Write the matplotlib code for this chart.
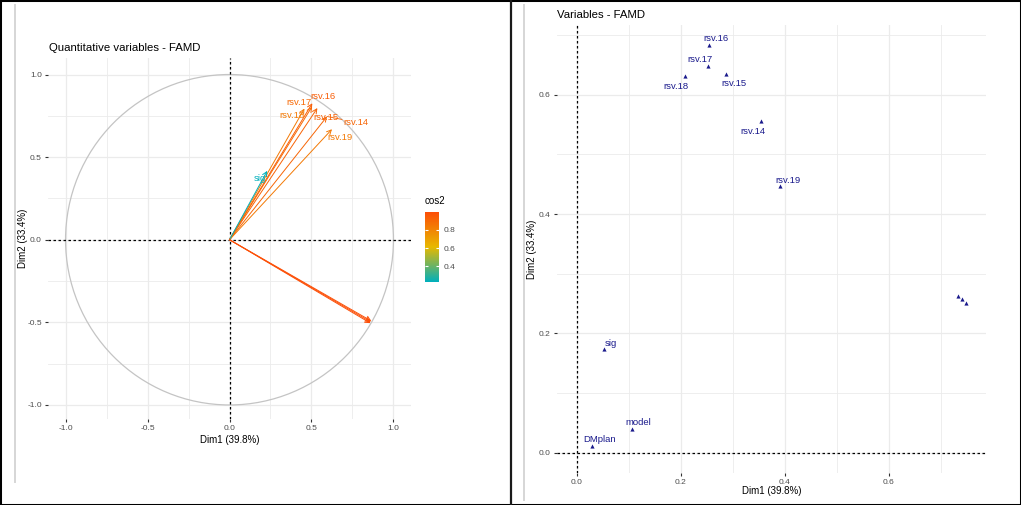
import matplotlib
matplotlib.use("Agg")
import matplotlib.pyplot as plt
import numpy as np
from matplotlib.colors import LinearSegmentedColormap, Normalize
from matplotlib.patches import Circle, Rectangle
from matplotlib.lines import Line2D
import matplotlib.cm as cm

plt.rcParams['font.family'] = ['Liberation Sans', 'DejaVu Sans']

# ---------------- data ----------------
# Left panel: quantitative variables (correlation circle)
quant_names = ["rsv.14", "rsv.15", "rsv.16", "rsv.17", "rsv.18", "rsv.19", "sig", "", "", ""]
quant_dim1 = [0.595, 0.536, 0.505, 0.503, 0.457, 0.625, 0.230, 0.860, 0.862, 0.865]
quant_dim2 = [0.746, 0.797, 0.826, 0.805, 0.794, 0.669, 0.417, -0.505, -0.498, -0.492]
quant_cos2 = [0.91, 0.92, 0.94, 0.90, 0.84, 0.84, 0.227, 0.997, 0.993, 0.990]

# Right panel: all variables
var_names = ["rsv.16", "rsv.17", "rsv.18", "rsv.15", "rsv.14", "rsv.19", "sig", "model", "DMplan", "", "", ""]
var_dim1 = [0.255, 0.253, 0.209, 0.287, 0.354, 0.391, 0.053, 0.106, 0.029, 0.734, 0.741, 0.749]
var_dim2 = [0.683, 0.648, 0.631, 0.635, 0.556, 0.447, 0.174, 0.040, 0.011, 0.263, 0.258, 0.251]

left_ticks = [-1.0, -0.5, 0.0, 0.5, 1.0]
left_minor = [-0.75, -0.25, 0.25, 0.75]
right_ticks = [0.0, 0.2, 0.4, 0.6]
right_minor = [0.1, 0.3, 0.5, 0.7]
cbar_ticks = [0.4, 0.6, 0.8]

# ---------------- layout helpers ----------------
W, H = 1021, 505
fig = plt.figure(figsize=(W / 100, H / 100), dpi=100)


def px_rect(l, t, r, b):
    return [l / W, 1 - b / H, (r - l) / W, (b - t) / H]


def axc(rect, px, py):
    l, t, r, b = rect
    return (px - l) / (r - l), (b - py) / (b - t)


GRID = "#EBEBEB"
TICKC = "#4D4D4D"


def style(ax, ticks, minor, fmt):
    for s in ax.spines.values():
        s.set_visible(False)
    ax.set_xticks(ticks)
    ax.set_yticks(ticks)
    ax.set_xticks(minor, minor=True)
    ax.set_yticks(minor, minor=True)
    ax.set_xticklabels([fmt % t for t in ticks])
    ax.set_yticklabels([fmt % t for t in ticks])
    ax.grid(True, which='major', color=GRID, lw=0.9)
    ax.grid(True, which='minor', color=GRID, lw=0.6)
    ax.set_axisbelow(True)
    ax.tick_params(which='major', length=2, width=0.8, color="#333333",
                   labelsize=6, labelcolor=TICKC, pad=2.5)
    ax.tick_params(which='minor', length=0)


# ---------------- left panel ----------------
L_RECT = (48, 58, 411, 419)
ax1 = fig.add_axes(px_rect(*L_RECT))
ax1.set_xlim(-1.107, 1.107)
ax1.set_ylim(-1.085, 1.10)
style(ax1, left_ticks, left_minor, "%.1f")

ax1.add_patch(Circle((0, 0), 1, fill=False, ec="#C4C4C4", lw=0.9, zorder=2))
ax1.axhline(0, color="black", ls=(0, (2, 2)), lw=0.9, zorder=3)
ax1.axvline(0, color="black", ls=(0, (2, 2)), lw=0.9, zorder=3)

cmap = LinearSegmentedColormap.from_list("fac", ["#00AFBB", "#E7B800", "#FC4E07"])
norm = Normalize(vmin=min(quant_cos2), vmax=max(quant_cos2))

label_offsets = {"rsv.14": (29, -6), "rsv.15": (9, -9), "rsv.16": (11, 7),
                 "rsv.17": (-13, 4), "rsv.18": (-12, -7), "rsv.19": (8, -8),
                 "sig": (-7, -8)}

for name, x, y, c2 in zip(quant_names, quant_dim1, quant_dim2, quant_cos2):
    col = cmap(norm(c2))
    ax1.annotate("", xy=(x, y), xytext=(0, 0),
                 arrowprops=dict(arrowstyle="->", color=col, lw=0.7,
                                 shrinkA=0, shrinkB=0, mutation_scale=8),
                 zorder=4)
    if name:
        dx, dy = label_offsets[name]
        ax1.annotate(name, xy=(x, y), xytext=(dx, dy), textcoords="offset pixels",
                     ha="center", va="center", fontsize=6.8, color=col, zorder=5)
        if name == "rsv.14":
            ax1.annotate("", xy=(x, y), xytext=(dx - 14, dy + 3), textcoords="offset pixels",
                         arrowprops=dict(arrowstyle="-", color=col, lw=0.6,
                                         shrinkA=0, shrinkB=0), zorder=4)

ax1.set_xlabel("Dim1 (39.8%)", fontsize=7, color="black")
ax1.xaxis.label.set_va("center")
ax1.xaxis.set_label_coords(*axc(L_RECT, 230, 440))
ax1.set_ylabel("Dim2 (33.4%)", fontsize=7, color="black")
ax1.yaxis.label.set_va("center")
ax1.yaxis.set_label_coords(*axc(L_RECT, 23, 238))
fig.text(49 / W, 1 - 48 / H, "Quantitative variables - FAMD", fontsize=8.2,
         ha="left", va="center", color="black")

# colorbar
cax = fig.add_axes(px_rect(425, 212, 439, 282))
sm = cm.ScalarMappable(norm=norm, cmap=cmap)
cb = fig.colorbar(sm, cax=cax, ticks=cbar_ticks)
cb.outline.set_visible(False)
cb.ax.set_yticklabels(["%.1f" % t for t in cbar_ticks])
cax.tick_params(axis='y', left=True, right=True, direction='in', length=2.5,
                width=0.8, color="white", labelsize=6, labelcolor=TICKC, pad=3)
fig.text(425 / W, 1 - 201 / H, "cos2", fontsize=7, ha="left", va="center")

# ---------------- right panel ----------------
R_RECT = (557, 25, 986, 473)
ax2 = fig.add_axes(px_rect(*R_RECT))
ax2.set_xlim(-0.0375, 0.787)
ax2.set_ylim(-0.034, 0.717)
style(ax2, right_ticks, right_minor, "%.1f")
ax2.axhline(0, color="black", ls=(0, (2, 2)), lw=0.9, zorder=3)
ax2.axvline(0, color="black", ls=(0, (2, 2)), lw=0.9, zorder=3)

NAVY = "#1A1A8C"
ax2.scatter(var_dim1, var_dim2, marker="^", s=9, color=NAVY, zorder=4, linewidths=0)
var_offsets = {"rsv.16": (7, 7), "rsv.17": (-8, 7), "rsv.18": (-9, -10),
               "rsv.15": (8, -10), "rsv.14": (-8, -10), "rsv.19": (8, 6),
               "sig": (7, 5), "model": (7, 6), "DMplan": (8, 7)}
for name, x, y in zip(var_names, var_dim1, var_dim2):
    if name:
        dx, dy = var_offsets[name]
        ax2.annotate(name, xy=(x, y), xytext=(dx, dy), textcoords="offset pixels",
                     ha="center", va="center", fontsize=6.8, color=NAVY, zorder=5)

ax2.set_xlabel("Dim1 (39.8%)", fontsize=7, color="black")
ax2.xaxis.label.set_va("center")
ax2.xaxis.set_label_coords(*axc(R_RECT, 772, 491))
ax2.set_ylabel("Dim2 (33.4%)", fontsize=7, color="black")
ax2.yaxis.label.set_va("center")
ax2.yaxis.set_label_coords(*axc(R_RECT, 532, 249))
fig.text(557 / W, 1 - 15 / H, "Variables - FAMD", fontsize=8.2,
         ha="left", va="center", color="black")

# ---------------- frame decorations ----------------
fig.add_artist(Rectangle((0, 0), 1, 1, transform=fig.transFigure, fill=False,
                         ec="black", lw=2.2))
fig.add_artist(Line2D([511 / W, 511 / W], [0, 1], transform=fig.transFigure,
                      color="#1A1A1A", lw=1.6))
fig.add_artist(Line2D([15 / W, 15 / W], [1 - 5 / H, 1 - 482 / H], transform=fig.transFigure,
                      color="#D6D6D6", lw=1.4))
fig.add_artist(Line2D([524 / W, 524 / W], [1 - 5 / H, 1 - 500 / H], transform=fig.transFigure,
                      color="#D6D6D6", lw=1.4))

fig.savefig("out.png", dpi=100)
